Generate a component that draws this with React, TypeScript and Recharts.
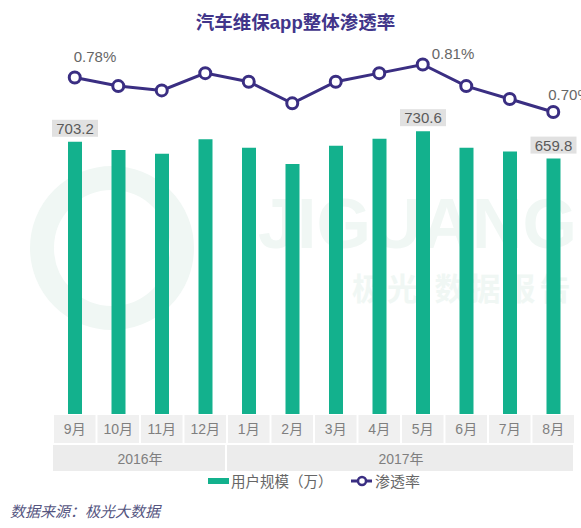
import React from "react";
import { ComposedChart, Bar, Line, XAxis, YAxis, LabelList, Legend } from "recharts";

const MONTHS = ["9月", "10月", "11月", "12月", "1月", "2月", "3月", "4月", "5月", "6月", "7月", "8月"];
const USERS = [703.2, 682, 672, 710, 688, 646, 693, 711, 730.6, 688, 678, 659.8];
const RATE = [0.78, 0.76, 0.75, 0.79, 0.77, 0.72, 0.77, 0.79, 0.81, 0.76, 0.73, 0.7];
const YEARS = [
  { label: "2016年", start: 0, span: 4 },
  { label: "2017年", start: 4, span: 8 },
];
const LABELED = [0, 8, 11];

const W = 581;
const H = 528;
const M = { top: 30, right: 6, left: 53, bottom: 57 };
const BAND = (W - M.left - M.right) / MONTHS.length;

const FONT = '"Liberation Sans", Arial, "Noto Sans CJK SC", sans-serif';
const GREEN = "#13b18d";
const PURPLE = "#3a2e82";

const data = MONTHS.map((m, i) => ({ month: m, users: USERS[i], rate: RATE[i] }));

function MonthTick(props: any) {
  const { x, y, payload, index } = props;
  const year = YEARS.find((g) => g.start === index);
  return (
    <g>
      <rect x={x - BAND / 2 + 1} y={y + 1} width={BAND - 2} height={28} fill="#f0f0f0" />
      <text x={x} y={y + 20} textAnchor="middle" fontSize={14} fill="#7f7f7f" fontFamily={FONT}>
        {payload.value}
      </text>
      {year && (
        <g>
          <rect x={x - BAND / 2} y={y + 31} width={BAND * year.span - 2} height={26} fill="#ececec" />
          <text
            x={x - BAND / 2 + (BAND * year.span) / 2}
            y={y + 50}
            textAnchor="middle"
            fontSize={14}
            fill="#7f7f7f"
            fontFamily={FONT}
          >
            {year.label}
          </text>
        </g>
      )}
    </g>
  );
}

function BarValue(props: any) {
  const { x, y, width, value, index } = props;
  if (!LABELED.includes(index)) return null;
  const cx = x + width / 2;
  return (
    <g>
      <rect x={cx - 23} y={y - 22} width={46} height={17} fill="#e1e1e1" />
      <text x={cx} y={y - 8} textAnchor="middle" fontSize={15} fill="#5a5a5a" fontFamily={FONT}>
        {value}
      </text>
    </g>
  );
}

// per-point label offsets, as placed in the original
const RATE_OFFSETS: Record<number, [number, number]> = {
  0: [-1, -15],
  8: [9, -6],
  11: [-5, -12],
};

function RateValue(props: any) {
  const { x, y, value, index } = props;
  const off = RATE_OFFSETS[index];
  if (!off) return null;
  return (
    <text x={x + off[0]} y={y + off[1]} fontSize={15} fill="#666" fontFamily={FONT}>
      {value.toFixed(2)}%
    </text>
  );
}

function LegendBox() {
  return (
    <svg width={W} height={20} style={{ display: "block" }}>
      <rect x={208} y={6} width={21} height={6} fill={GREEN} />
      <text x={231} y={15} fontSize={14.5} fill="#666" fontFamily={FONT}>
        用户规模（万）
      </text>
      <line x1={351} y1={9} x2={372} y2={9} stroke={PURPLE} strokeWidth={3} />
      <circle cx={362} cy={9} r={4} fill="#fff" stroke={PURPLE} strokeWidth={2.5} />
      <text x={375} y={15} fontSize={15} fill="#666" fontFamily={FONT}>
        渗透率
      </text>
    </svg>
  );
}

export default function App() {
  return (
    <div style={{ position: "absolute", left: 0, top: 0, width: W, height: H, background: "#fff", overflow: "hidden" }}>
      {/* faint watermark behind the chart */}
      <svg width={W} height={H} style={{ position: "absolute", left: 0, top: 0 }}>
        <circle cx={112} cy={248} r={70} fill="none" stroke="#f0f7f4" strokeWidth={24} />
        <text x={258} y={248} fontSize={70} fontWeight="bold" fill="#f0f7f4" fontFamily={FONT}>
          JIGUANG
        </text>
        <text x={352} y={300} fontSize={31} fontWeight="bold" fill="#f0f7f4" fontFamily={FONT} letterSpacing={4}>
          极光 数据报告
        </text>
      </svg>
      <div
        style={{
          position: "absolute",
          top: 8,
          left: 0,
          width: W,
          textAlign: "center",
          fontFamily: FONT,
          fontWeight: "bold",
          fontSize: 18.5,
          color: "#41358a",
          paddingLeft: 10,
          boxSizing: "border-box",
        }}
      >
        汽车维保app整体渗透率
      </div>
      <div style={{ position: "absolute", left: 0, top: 0 }}>
        <ComposedChart width={W} height={H} data={data} margin={M}>
          <XAxis
            dataKey="month"
            axisLine={false}
            tickLine={false}
            tickSize={0}
            tickMargin={0}
            height={57}
            interval={0}
            tick={<MonthTick />}
          />
          <YAxis yAxisId="left" hide domain={[0, 992]} />
          <YAxis yAxisId="right" orientation="right" hide domain={[0, 0.89]} />
          <Legend
            layout="horizontal"
            verticalAlign="middle"
            align="center"
            wrapperStyle={{ top: 472, left: 0, width: W }}
            content={() => <LegendBox />}
          />
          <Bar yAxisId="left" dataKey="users" fill={GREEN} barSize={14} isAnimationActive={false}>
            <LabelList dataKey="users" content={<BarValue />} />
          </Bar>
          <Line
            yAxisId="right"
            dataKey="rate"
            stroke={PURPLE}
            strokeWidth={3}
            dot={{ r: 5.5, fill: "#fff", stroke: PURPLE, strokeWidth: 3 }}
            activeDot={false}
            isAnimationActive={false}
          >
            <LabelList dataKey="rate" content={<RateValue />} />
          </Line>
        </ComposedChart>
      </div>
      <div
        style={{
          position: "absolute",
          left: 10,
          top: 500,
          fontFamily: FONT,
          fontStyle: "italic",
          fontSize: 15,
          color: "#55557f",
        }}
      >
        数据来源：极光大数据
      </div>
    </div>
  );
}
